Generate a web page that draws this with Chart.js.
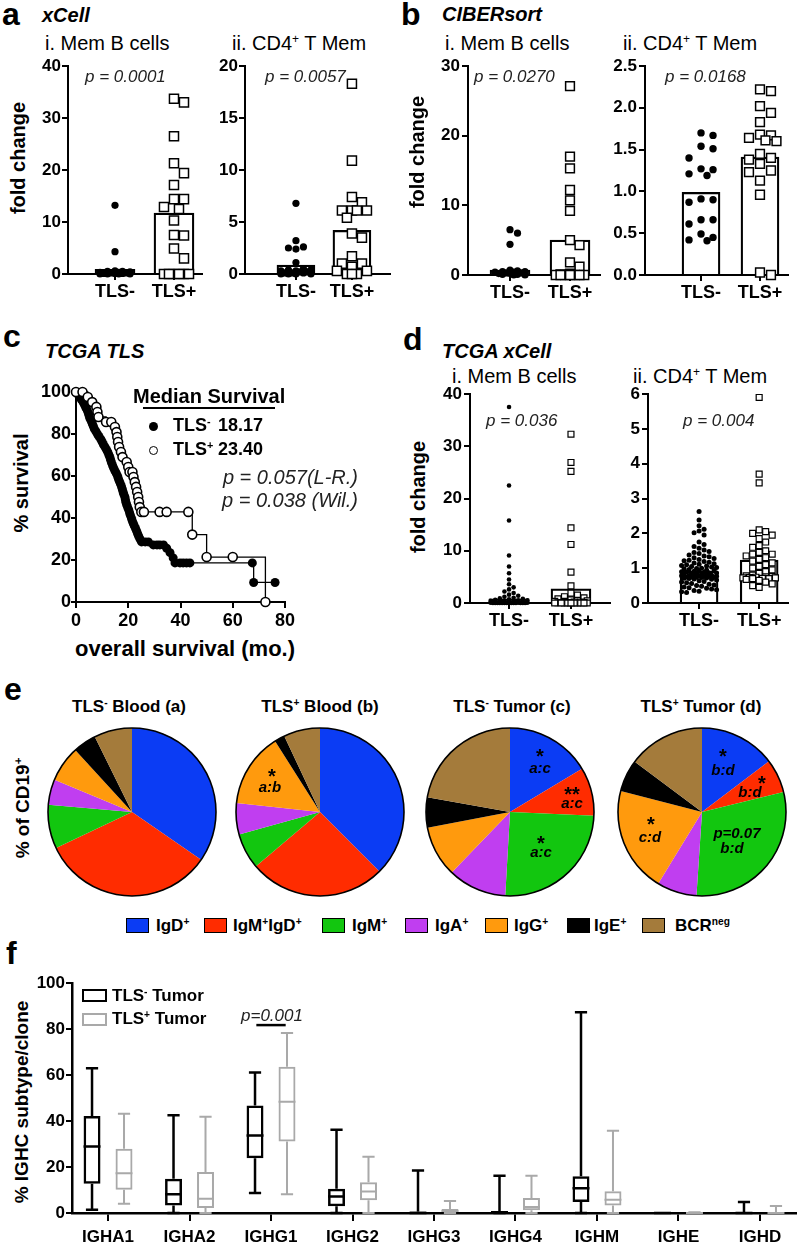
<!DOCTYPE html>
<html><head><meta charset="utf-8">
<script src="https://cdn.jsdelivr.net/npm/chart.js@4.4.1/dist/chart.umd.min.js"></script>
<style>
html,body{margin:0;padding:0;background:#fff;}
#fig{position:relative;width:800px;height:1243px;overflow:hidden;background:#fff;font-family:"Liberation Sans",Arial,Helvetica,sans-serif;color:#000;}
#fig canvas{position:absolute;}
.t{position:absolute;white-space:nowrap;line-height:1;}
.t sup{font-size:0.6em;line-height:0;vertical-align:0.6em;}
.sw{position:absolute;box-sizing:border-box;}
</style></head><body><div id="fig"></div>
<script>
// ================= DATA =================
const groupLabels = ['TLS-', 'TLS+'];

// a. xCell
const aMemB_neg = [13.2, 4.3, 0.6, 0.5, 0.5, 0.4, 0.3, 0.3, 0.2, 0.2, 0.1, 0.1, 0.1, 0.0, 0.0, 0.0, 0.0];
const aMemB_pos = [33.7, 33.0, 26.5, 21.3, 19.4, 17.1, 14.4, 14.4, 12.9, 12.5, 10.3, 7.4, 7.5, 4.9, 3.0, 0, 0, 0, 0, 0, 0];
const aMemB_mean = [0.9, 11.7];
const aCD4_neg = [6.8, 3.2, 2.6, 2.5, 2.4, 1.1, 0.5, 0.4, 0.4, 0.3, 0.3, 0.2, 0.2, 0.1, 0.1, 0.1, 0.0, 0.0, 0.0, 0.0];
const aCD4_pos = [18.3, 10.9, 7.4, 6.9, 6.1, 6.1, 6.1, 6.1, 5.4, 3.9, 3.5, 1.7, 1.0, 1.0, 0.7, 0.3, 0.3, 0, 0, 0];
const aCD4_mean = [0.85, 4.2];

// b. CIBERsort
const bMemB_neg = [6.5, 6.0, 4.4, 0.7, 0.6, 0.5, 0.5, 0.4, 0.4, 0.3, 0.3, 0.2, 0.2, 0.1, 0.1, 0.0, 0.0];
const bMemB_pos = [27.1, 17.0, 15.3, 12.2, 10.7, 9.2, 5.0, 4.3, 1.8, 1.2, 0.2, 0.1, 0, 0, 0, 0, 0, 0, 0];
const bMemB_mean = [0.7, 5.0];
const bCD4_neg = [1.70, 1.67, 1.54, 1.51, 1.40, 1.27, 1.26, 1.21, 1.19, 0.91, 0.90, 0.87, 0.66, 0.66, 0.61, 0.49, 0.45, 0.42, 0.41];
const bCD4_pos = [2.22, 2.20, 2.02, 1.94, 1.83, 1.68, 1.67, 1.64, 1.61, 1.60, 1.45, 1.40, 1.38, 1.33, 1.25, 1.23, 1.13, 0.96, 0.03, 0.0];
const bCD4_mean = [0.99, 1.41];

// c. TCGA TLS Kaplan-Meier  [months, % survival]
const kmNeg = [[0,100],[0.8,98.8],[1.5,97.5],[2.1,96.3],[2.8,95],[3.3,93.8],[3.8,92.5],[4.3,91.3],[4.7,90],[5.0,88.8],[5.3,87.5],[5.8,86.3],[6.2,85],[6.6,83.8],[7.0,82.5],[7.6,81.3],[8.2,80],[8.8,78.8],[9.5,77.5],[10.0,76.3],[10.5,75],[11.1,73.8],[11.7,72.5],[12.2,71.3],[12.6,70],[13.0,68.8],[13.3,67.5],[13.6,66.3],[14.0,65],[14.4,63.8],[14.9,62.5],[15.4,61.3],[15.9,60],[16.2,58.8],[16.6,57.5],[17.0,56.3],[17.4,55],[17.7,53.8],[18.0,52.5],[18.3,51.3],[18.7,50],[18.9,48.8],[19.1,47.5],[19.4,46.3],[19.8,45],[20.2,43.8],[20.5,42.5],[20.8,41.3],[21.2,40],[21.5,38.8],[21.9,37.5],[22.3,36.3],[22.8,35],[23.2,33.8],[23.6,32.5],[24.0,31.3],[24.5,30],[25.1,28.6],[26.5,28.6],[27.7,28.6],[29.6,27.2],[31.0,27.2],[32.1,27.2],[33.5,27.2],[34.7,25.6],[36.0,23.5],[37.2,21.0],[37.9,18.6],[39.8,18.6],[41.0,18.6],[42.3,18.6],[43.6,18.6],[67.5,18.6],[68.0,9.3],[76.2,9.3]];
const kmPos = [[0,100],[2.5,100],[4.5,97.6],[6.2,95.2],[7.8,92.9],[8.2,90.5],[8.6,88.1],[11.5,85.7],[13.5,85.7],[14.9,83.3],[15.5,80.9],[15.8,78.6],[16.1,76.2],[16.5,73.8],[17.2,71.4],[17.8,69.0],[19.4,66.7],[20.0,64.3],[20.5,61.9],[21.6,61.9],[22.0,59.5],[22.5,57.1],[23.0,54.8],[23.4,52.4],[23.8,50.0],[24.1,47.6],[24.4,45.2],[25.0,42.9],[26.0,42.9],[32.0,42.9],[34.7,42.9],[43.0,42.9],[44.5,32.1],[50.0,21.4],[60.0,21.4],[72.5,0]];

// d. TCGA xCell
const dMemB_neg = [37.5, 22.5, 15.8, 9.1, 7.0, 5.7, 4.5, 3.6, 3.0, 2.6, 2.2, 1.9, 1.6, 1.4, 1.2, 1.0, 0.9, 0.8, 0.7, 0.6, 0.5, 0.5, 0.4, 0.4, 0.3, 0.3, 0.3, 0.2, 0.2, 0.2, 0.2, 0.1, 0.1, 0.1, 0.1, 0.1, 0.1, 0.05, 0.05, 0.05, 0.05, 0.05, 0, 0, 0, 0, 0, 0, 0, 0, 0, 0, 0, 0, 0, 0];
const dMemB_pos = [32.3, 26.9, 25.2, 14.4, 11.2, 5.9, 3.3, 1.9, 1.5, 1.2, 1.0, 0.8, 0.6, 0.5, 0.4, 0.3, 0.3, 0.2, 0.2, 0.1, 0.1, 0.1, 0.05, 0.05, 0, 0, 0, 0, 0, 0, 0, 0, 0, 0];
const dMemB_mean = [0.8, 2.7];
const dCD4_neg = [2.63, 2.38, 2.22, 2.12, 2.07, 2.02, 1.95, 1.75, 1.68, 1.62, 1.57, 1.52, 1.48, 1.45, 1.42, 1.38, 1.35, 1.33, 1.30, 1.28, 1.25, 1.23, 1.21, 1.19, 1.17, 1.15, 1.13, 1.11, 1.10, 1.08, 1.06, 1.05, 1.03, 1.02, 1.00, 0.99, 0.98, 0.96, 0.95, 0.93, 0.92, 0.91, 0.90, 0.89, 0.88, 0.87, 0.86, 0.85, 0.84, 0.83, 0.82, 0.81, 0.80, 0.80, 0.79, 0.78, 0.78, 0.77, 0.76, 0.76, 0.75, 0.75, 0.74, 0.74, 0.73, 0.72, 0.71, 0.70, 0.69, 0.68, 0.66, 0.64, 0.62, 0.60, 0.58, 0.56, 0.54, 0.52, 0.50, 0.48, 0.46, 0.44, 0.42, 0.40, 0.38, 0.36, 0.34, 0.32, 0.30];
const dCD4_pos = [5.9, 3.7, 3.45, 2.1, 2.05, 2.0, 1.95, 1.85, 1.75, 1.65, 1.6, 1.5, 1.45, 1.4, 1.4, 1.35, 1.3, 1.25, 1.2, 1.15, 1.1, 1.05, 1.0, 0.95, 0.9, 0.85, 0.8, 0.78, 0.76, 0.75, 0.74, 0.73, 0.72, 0.72, 0.71, 0.70, 0.70, 0.68, 0.65, 0.6, 0.55, 0.5, 0.45];
const dCD4_mean = [0.91, 1.23];

// e. BCR isotype pies (% of CD19+)
const pieLabels = ['IgD<sup>+</sup>', 'IgM<sup>+</sup>IgD<sup>+</sup>', 'IgM<sup>+</sup>', 'IgA<sup>+</sup>', 'IgG<sup>+</sup>', 'IgE<sup>+</sup>', 'BCR<sup>neg</sup>'];
const pieTitles = ['TLS<sup>-</sup> Blood (a)', 'TLS<sup>+</sup> Blood (b)', 'TLS<sup>-</sup> Tumor (c)', 'TLS<sup>+</sup> Tumor (d)'];
const pieBloodNeg = [34.6, 33.3, 8.4, 4.9, 6.9, 4.5, 7.3];
const pieBloodPos = [37.5, 26.3, 6.9, 6.0, 14.3, 2.0, 7.0];
const pieTumorNeg = [16.4, 9.3, 25.2, 11.3, 9.8, 5.8, 22.2];
const pieTumorPos = [14.7, 6.5, 29.9, 7.7, 20.3, 6.2, 14.8];

// f. IGHC subtype box plots
const ighcCats = ['IGHA1', 'IGHA2', 'IGHG1', 'IGHG2', 'IGHG3', 'IGHG4', 'IGHM', 'IGHE', 'IGHD'];
const negMin = [1.4, 0, 8.7, 0, 0, 0, 0, 0, 0];
const negQ1  = [12.7, 3.3, 23.8, 2.9, 0, 0, 4.8, 0, 0];
const negMed = [28.9, 8.2, 33.7, 7.2, 0, 0.3, 10.8, 0, 0];
const negQ3  = [42.2, 14.9, 46.7, 10.5, 0.6, 0.9, 16.0, 0, 0];
const negMax = [62.9, 42.5, 61.1, 36.2, 18.5, 16.2, 87.3, 0, 4.8];
const posMin = [4.0, 0, 8.2, 0, 0, 0, 0, 0, 0];
const posQ1  = [10.1, 2.2, 31.1, 5.5, 0, 1.2, 3.3, 0, 0];
const posMed = [17.3, 6.2, 48.4, 9.4, 0.9, 2.6, 5.8, 0, 0];
const posQ3  = [27.9, 17.8, 63.6, 13.4, 1.7, 6.5, 9.5, 0.3, 0.4];
const posMax = [43.1, 41.9, 78.3, 24.5, 5.2, 16.2, 35.8, 0.3, 3.0];

// ================= STYLE =================
const pieColors = ['#0b3cf4', '#ff2c00', '#12c60f', '#c03ef0', '#ff9a0d', '#000000', '#a47b3b'];
const FONT = '"Liberation Sans", Arial, Helvetica, sans-serif';
Chart.defaults.font.family = FONT;
Chart.defaults.color = '#000';
Chart.defaults.animation = false;

const FIG = document.getElementById('fig');

function txt(html, x, base, size, st, align, color) {
  st = st || '';
  const d = document.createElement('div');
  d.className = 't';
  d.innerHTML = html;
  d.style.fontSize = size + 'px';
  d.style.fontWeight = st.includes('b') ? 'bold' : 'normal';
  d.style.fontStyle = st.includes('i') ? 'italic' : 'normal';
  if (color) d.style.color = color;
  d.style.left = x + 'px';
  d.style.top = (base - 0.8465 * size) + 'px';
  if (align === 'center') d.style.transform = 'translateX(-50%)';
  else if (align === 'right') d.style.transform = 'translateX(-100%)';
  FIG.appendChild(d);
  return d;
}
function vtxt(html, cx, cy, size, st) {
  const d = document.createElement('div');
  d.className = 't';
  d.innerHTML = html;
  d.style.fontSize = size + 'px';
  d.style.fontWeight = (st || '').includes('b') ? 'bold' : 'normal';
  d.style.left = cx + 'px';
  d.style.top = cy + 'px';
  d.style.transform = 'translate(-50%,-50%) rotate(-90deg)';
  FIG.appendChild(d);
}
function box(x, y, w, h, css) {
  const d = document.createElement('div');
  d.className = 'sw';
  d.style.left = x + 'px'; d.style.top = y + 'px';
  d.style.width = w + 'px'; d.style.height = h + 'px';
  d.style.cssText += css;
  FIG.appendChild(d);
}
function mkCanvas(C) {
  const c = document.createElement('canvas');
  const w = C.r - C.l, h = C.b - C.t;
  c.width = w; c.height = h;
  c.style.left = C.l + 'px'; c.style.top = C.t + 'px';
  c.style.width = w + 'px'; c.style.height = h + 'px';
  FIG.appendChild(c);
  return c;
}
function axisGrid(tl) {
  return {display: true, drawOnChartArea: false, drawTicks: true, tickLength: tl || 6, color: '#000', lineWidth: 2, offset: false};
}

// beeswarm-style horizontal spreading of tied/close points (deterministic)
function swarm(vals, pxPerY, pitch, maxOff) {
  const order = vals.map((v, i) => i).sort((a, b) => vals[b] - vals[a] || a - b);
  const cands = [0];
  const half = pitch / 2;
  for (let k = 1; k * half <= maxOff + 0.01; k++) cands.push(k * half, -k * half);
  const full = cands.filter(c => Math.abs(Math.round(c / pitch) * pitch - c) < 0.01);
  const placed = [], off = new Array(vals.length).fill(0);
  for (const i of order) {
    const y = vals[i] * pxPerY;
    let best = 0, bestScore = -Infinity, found = false;
    for (const c of full) {
      let md = Infinity;
      for (const p of placed) { const d = Math.hypot(p.x - c, p.y - y); if (d < md) md = d; }
      if (md >= pitch) { best = c; found = true; break; }
    }
    if (!found) {
      for (const c of cands) {
        let md = Infinity;
        for (const p of placed) { const d = Math.hypot(p.x - c, p.y - y); if (d < md) md = d; }
        if (md > bestScore + 0.01) { bestScore = md; best = c; }
      }
    }
    placed.push({x: best, y}); off[i] = best;
  }
  return off;
}

function dotPlot(o) {
  const A = o.area, C = o.canvas;
  const cv = mkCanvas(C);
  const pxY = (A.b - A.t) / (o.yMax - o.yMin);
  const pxX = (A.r - A.l) / (o.xMax - o.xMin);
  const nOff = swarm(o.neg, pxY, o.dotPitch, o.spread);
  const pOff = swarm(o.pos, pxY, o.sqPitch, o.spread);
  const negData = o.neg.map((v, i) => ({x: 0 + nOff[i] / pxX, y: v}));
  const posData = o.pos.map((v, i) => ({x: 1 + pOff[i] / pxX, y: v}));
  new Chart(cv, {
    type: 'scatter',
    data: {datasets: [
      {type: 'scatter', data: negData, pointStyle: 'circle', pointRadius: o.dotR, pointBackgroundColor: '#000', pointBorderColor: '#000', pointBorderWidth: 0, clip: false, order: 1},
      {type: 'scatter', data: posData, pointStyle: 'rect', pointRadius: o.sqR, pointBackgroundColor: '#fff', pointBorderColor: '#000', pointBorderWidth: o.sqBW, clip: false, order: 1},
      {type: 'bar', data: [{x: 0, y: o.mean[0]}, {x: 1, y: o.mean[1]}], backgroundColor: 'rgba(0,0,0,0)', borderColor: '#000', borderWidth: 1.6, barThickness: o.barW, borderSkipped: 'start', order: 2}
    ]},
    options: {
      responsive: false, events: [],
      layout: {padding: {left: 0, top: A.t - C.t, right: C.r - A.r, bottom: 0}},
      plugins: {legend: {display: false}, tooltip: {enabled: false}},
      scales: {
        x: {type: 'linear', offset: false, min: o.xMin, max: o.xMax,
            afterBuildTicks: s => { s.ticks = [{value: 0}, {value: 1}]; },
            afterFit: s => { s.height = C.b - A.b; },
            ticks: {callback: v => groupLabels[v], font: {size: 18, weight: 'bold'}, color: '#000', padding: 1, maxRotation: 0, autoSkip: false},
            grid: axisGrid(6), border: {display: true, color: '#000', width: 2}},
        y: {type: 'linear', offset: false, min: o.yMin, max: o.yMax,
            afterFit: s => { s.width = A.l - C.l; },
            ticks: {stepSize: o.yStep, callback: v => v.toFixed(o.dec || 0), font: {size: 17, weight: 'bold'}, color: '#000', padding: o.yPad == null ? 1 : o.yPad},
            grid: axisGrid(6), border: {display: true, color: '#000', width: 2}}
      }
    }
  });
}

// ================= PANEL a =================
txt('a', 2, 25, 32, 'b');
txt('xCell', 42, 22, 20, 'bi');
txt('i. Mem B cells', 45, 50, 20);
txt('ii. CD4<sup>+</sup> T Mem', 232, 50, 20);
vtxt('fold change', 18, 158, 20, 'b');
dotPlot({area: {l: 68, t: 66, r: 202, b: 274}, canvas: {l: 0, t: 50, r: 212, b: 305},
  yMin: 0, yMax: 40, yStep: 10, xMin: -0.797, xMax: 1.475,
  neg: aMemB_neg, pos: aMemB_pos, mean: aMemB_mean,
  dotR: 3.6, sqR: 6.4, sqBW: 1.5, dotPitch: 7.5, sqPitch: 10, spread: 18, barW: 40});
dotPlot({area: {l: 245, t: 66, r: 390, b: 274}, canvas: {l: 205, t: 50, r: 398, b: 305},
  yMin: 0, yMax: 20, yStep: 5, xMin: -0.91, xMax: 1.68,
  neg: aCD4_neg, pos: aCD4_pos, mean: aCD4_mean,
  dotR: 3.6, sqR: 6.4, sqBW: 1.5, dotPitch: 7.5, sqPitch: 10, spread: 18, barW: 38});
txt('p = 0.0001', 85, 82, 17, 'i', null, '#222');
txt('p = 0.0057', 265, 82, 17, 'i', null, '#222');

// ================= PANEL b =================
txt('b', 401, 25, 32, 'b');
txt('CIBERsort', 442, 21, 20, 'bi');
txt('i. Mem B cells', 445, 50, 20);
txt('ii. CD4<sup>+</sup> T Mem', 623, 50, 20);
vtxt('fold change', 417, 152, 20, 'b');
dotPlot({area: {l: 468, t: 66, r: 600, b: 275}, canvas: {l: 420, t: 50, r: 608, b: 305},
  yMin: 0, yMax: 30, yStep: 10, xMin: -0.7, xMax: 1.5, yPad: 2,
  neg: bMemB_neg, pos: bMemB_pos, mean: bMemB_mean,
  dotR: 3.6, sqR: 6.2, sqBW: 1.5, dotPitch: 7.5, sqPitch: 9.5, spread: 18, barW: 40});
dotPlot({area: {l: 645, t: 66, r: 788, b: 275}, canvas: {l: 605, t: 50, r: 798, b: 305},
  yMin: 0, yMax: 2.5, yStep: 0.5, dec: 1, xMin: -0.95, xMax: 1.475, yPad: 2,
  neg: bCD4_neg, pos: bCD4_pos, mean: bCD4_mean,
  dotR: 3.7, sqR: 6.2, sqBW: 1.5, dotPitch: 12, sqPitch: 11, spread: 18, barW: 38});
txt('p = 0.0270', 474, 82, 17, 'i', null, '#222');
txt('p = 0.0168', 665, 82, 17, 'i', null, '#222');

// ================= PANEL c =================
txt('c', 3, 347, 32, 'b');
txt('TCGA TLS', 45, 358, 20, 'bi');
vtxt('% survival', 21, 483, 20, 'b');
txt('overall survival (mo.)', 185, 657, 22, 'b', 'center');
(function () {
  const A = {l: 76, t: 392, r: 285, b: 602}, C = {l: 25, t: 376, r: 300, b: 640};
  const cv = mkCanvas(C);
  new Chart(cv, {
    type: 'scatter',
    data: {datasets: [
      {label: 'TLS+', data: kmPos.map(p => ({x: p[0], y: p[1]})), showLine: true, stepped: true, borderColor: '#000', borderWidth: 1.3,
       pointStyle: 'circle', pointRadius: 4.5, pointBackgroundColor: '#fff', pointBorderColor: '#000', pointBorderWidth: 1.6, clip: false},
      {label: 'TLS-', data: kmNeg.map(p => ({x: p[0], y: p[1]})), showLine: true, stepped: true, borderColor: '#000', borderWidth: 1.3,
       pointStyle: 'circle', pointRadius: 4.5, pointBackgroundColor: '#000', pointBorderColor: '#000', pointBorderWidth: 0, clip: false}
    ]},
    options: {
      responsive: false, events: [],
      layout: {padding: {left: 0, top: A.t - C.t, right: C.r - A.r, bottom: 0}},
      plugins: {legend: {display: false}, tooltip: {enabled: false}},
      scales: {
        x: {type: 'linear', min: 0, max: 80, afterFit: s => { s.height = C.b - A.b; },
            ticks: {stepSize: 20, font: {size: 18, weight: 'bold'}, color: '#000', padding: 2, maxRotation: 0},
            grid: axisGrid(6), border: {display: true, color: '#000', width: 2}},
        y: {type: 'linear', min: 0, max: 100, afterFit: s => { s.width = A.l - C.l; },
            ticks: {stepSize: 20, font: {size: 18, weight: 'bold'}, color: '#000', padding: 0},
            grid: axisGrid(5), border: {display: true, color: '#000', width: 2}}
      }
    }
  });
})();
txt('Median Survival', 133, 403, 20, 'b');
box(143, 407, 132, 2, 'background:#000;');
box(148.5, 421.5, 9, 9, 'background:#000;border-radius:50%;');
txt('TLS<sup>-</sup>', 173, 431, 18, 'b');
txt('18.17', 218, 431, 18, 'b');
box(148.5, 445.5, 9, 9, 'background:#fff;border:1.6px solid #000;border-radius:50%;');
txt('TLS<sup>+</sup>', 173, 455, 18, 'b');
txt('23.40', 218, 455, 18, 'b');
txt('p = 0.057(L-R.)', 358, 484, 20, 'i', 'right', '#222');
txt('p = 0.038 (Wil.)', 358, 507, 20, 'i', 'right', '#222');

// ================= PANEL d =================
txt('d', 403, 350, 32, 'b');
txt('TCGA xCell', 442, 358, 20, 'bi');
txt('i. Mem B cells', 452, 383, 20);
txt('ii. CD4<sup>+</sup> T Mem', 633, 383, 20);
vtxt('fold change', 418, 497, 20, 'b');
dotPlot({area: {l: 470, t: 394, r: 610, b: 603}, canvas: {l: 425, t: 378, r: 618, b: 635},
  yMin: 0, yMax: 40, yStep: 10, xMin: -0.63, xMax: 1.63, yPad: 2,
  neg: dMemB_neg, pos: dMemB_pos, mean: dMemB_mean,
  dotR: 2.3, sqR: 4.2, sqBW: 1.2, dotPitch: 4.6, sqPitch: 6.5, spread: 19, barW: 40});
dotPlot({area: {l: 648, t: 394, r: 788, b: 603}, canvas: {l: 612, t: 378, r: 798, b: 635},
  yMin: 0, yMax: 6, yStep: 1, xMin: -0.85, xMax: 1.48, yPad: 2,
  neg: dCD4_neg, pos: dCD4_pos, mean: dCD4_mean,
  dotR: 2.5, sqR: 4.2, sqBW: 1.2, dotPitch: 5, sqPitch: 6.5, spread: 19, barW: 38});
txt('p = 0.036', 486, 426, 17, 'i', null, '#222');
txt('p = 0.004', 683, 426, 17, 'i', null, '#222');

// ================= PANEL e =================
txt('e', 4, 700, 32, 'b');
vtxt('% of CD19<sup>+</sup>', 22, 808, 19, 'b');
const outlinePlugin = {
  id: 'outline',
  afterDatasetsDraw(chart) {
    const arc = chart.getDatasetMeta(0).data[0];
    if (!arc) return;
    const ctx = chart.ctx;
    ctx.save();
    ctx.beginPath();
    ctx.arc(arc.x, arc.y, arc.outerRadius, 0, Math.PI * 2);
    ctx.lineWidth = 1.6; ctx.strokeStyle = '#000';
    ctx.stroke();
    ctx.restore();
  }
};
const pieSets = [pieBloodNeg, pieBloodPos, pieTumorNeg, pieTumorPos];
const pieCX = [132, 320, 510, 702];
const pieTitleX = [129, 320, 512, 701];
pieSets.forEach((vals, k) => {
  const cx = pieCX[k], cy = 812, half = 88;
  const cv = mkCanvas({l: cx - half, t: cy - half, r: cx + half, b: cy + half});
  new Chart(cv, {
    type: 'pie',
    data: {labels: pieLabels, datasets: [{data: vals, backgroundColor: pieColors, borderWidth: 0, hoverOffset: 0, offset: 0}]},
    options: {responsive: false, events: [], layout: {padding: 4},
      plugins: {legend: {display: false}, tooltip: {enabled: false}}},
    plugins: [outlinePlugin]
  });
  txt(pieTitles[k], pieTitleX[k], 712, 17, 'b', 'center');
});
// significance marks on slices
txt('*', 272, 783, 20, 'b', 'center'); txt('a:b', 270, 792, 15, 'bi', 'center');
txt('*', 540, 763, 20, 'b', 'center'); txt('a:c', 540, 773, 15, 'bi', 'center');
txt('**', 572, 801, 20, 'b', 'center'); txt('a:c', 572, 808, 15, 'bi', 'center');
txt('*', 541, 850, 20, 'b', 'center'); txt('a:c', 541, 857, 15, 'bi', 'center');
txt('*', 723, 763, 20, 'b', 'center'); txt('b:d', 723, 775, 15, 'bi', 'center');
txt('*', 762, 790, 20, 'b', 'center'); txt('b:d', 750, 797, 15, 'bi', 'center');
txt('*', 651, 831, 20, 'b', 'center'); txt('c:d', 650, 842, 15, 'bi', 'center');
txt('p=0.07', 737, 838, 15, 'bi', 'center'); txt('b:d', 732, 853, 15, 'bi', 'center');
// legend
const legBoxX = [126, 204, 322, 405, 485, 567, 642];
const legTxtX = [156, 233, 352, 435, 514, 594, 675];
pieLabels.forEach((lab, i) => {
  box(legBoxX[i], 918, 23, 15, 'background:' + pieColors[i] + ';border:1.5px solid #000;');
  txt(lab, legTxtX[i], 931, 17, 'b');
});

// ================= PANEL f =================
txt('f', 6, 964, 32, 'b');
vtxt('% IGHC subtype/clone', 21, 1102, 19, 'b');
(function () {
  const A = {l: 72, t: 983, r: 796, b: 1213}, C = {l: 30, t: 966, r: 800, b: 1243};
  const cv = mkCanvas(C);
  const whisker = {
    id: 'whisker',
    afterDatasetsDraw(chart) {
      const ys = chart.scales.y, xs = chart.scales.x, ctx = chart.ctx;
      chart.data.datasets.forEach((ds, di) => {
        const meta = chart.getDatasetMeta(di);
        meta.data.forEach((el, i) => {
          const x = el.x, w = el.width;
          const st = ds.stats;
          const pMin = ys.getPixelForValue(st.min[i]), pMax = ys.getPixelForValue(st.max[i]);
          const pMed = ys.getPixelForValue(st.med[i]);
          const pQ1 = ys.getPixelForValue(ds.data[i].y[0]), pQ3 = ys.getPixelForValue(ds.data[i].y[1]);
          ctx.save();
          ctx.strokeStyle = ds.borderColor; ctx.lineWidth = ds.borderWidth; ctx.lineCap = 'butt';
          ctx.beginPath();
          if (pMax < pQ3) { ctx.moveTo(x, pQ3); ctx.lineTo(x, pMax); }
          if (pMin > pQ1) { ctx.moveTo(x, pQ1); ctx.lineTo(x, pMin); }
          ctx.moveTo(x - w * 0.36, pMax); ctx.lineTo(x + w * 0.36, pMax);
          ctx.moveTo(x - w * 0.36, pMin); ctx.lineTo(x + w * 0.36, pMin);
          ctx.moveTo(x - w / 2, pMed); ctx.lineTo(x + w / 2, pMed);
          ctx.stroke();
          ctx.restore();
        });
      });
      // significance bar IGHG1 TLS- vs TLS+
      ctx.save();
      ctx.strokeStyle = '#000'; ctx.lineWidth = 2.5;
      ctx.beginPath();
      ctx.moveTo(xs.getPixelForValue(1.82), ys.getPixelForValue(81.7));
      ctx.lineTo(xs.getPixelForValue(2.18), ys.getPixelForValue(81.7));
      ctx.stroke();
      ctx.restore();
    }
  };
  new Chart(cv, {
    type: 'bar',
    data: {datasets: [
      {label: 'TLS- Tumor', data: ighcCats.map((c, i) => ({x: i, y: [negQ1[i], negQ3[i]]})),
       backgroundColor: 'rgba(0,0,0,0)', borderColor: '#000', borderWidth: 2.5, borderSkipped: false,
       categoryPercentage: 0.785, barPercentage: 0.53, stats: {min: negMin, med: negMed, max: negMax}},
      {label: 'TLS+ Tumor', data: ighcCats.map((c, i) => ({x: i, y: [posQ1[i], posQ3[i]]})),
       backgroundColor: 'rgba(0,0,0,0)', borderColor: '#a9a9a9', borderWidth: 2, borderSkipped: false,
       categoryPercentage: 0.785, barPercentage: 0.53, stats: {min: posMin, med: posMed, max: posMax}}
    ]},
    options: {
      responsive: false, events: [],
      layout: {padding: {left: 0, top: A.t - C.t, right: C.r - A.r, bottom: 0}},
      plugins: {legend: {display: false}, tooltip: {enabled: false}},
      scales: {
        x: {type: 'linear', offset: false, min: -0.442, max: 8.442,
            afterBuildTicks: s => { s.ticks = ighcCats.map((c, i) => ({value: i})); },
            afterFit: s => { s.height = C.b - A.b; },
            ticks: {callback: v => ighcCats[v], font: {size: 17, weight: 'bold'}, color: '#000', padding: 6, maxRotation: 0, autoSkip: false},
            grid: axisGrid(8), border: {display: true, color: '#000', width: 2.5}},
        y: {type: 'linear', min: 0, max: 100, afterFit: s => { s.width = A.l - C.l; },
            ticks: {stepSize: 20, font: {size: 17, weight: 'bold'}, color: '#000', padding: 1},
            grid: axisGrid(6), border: {display: true, color: '#000', width: 2.5}}
      }
    },
    plugins: [whisker]
  });
})();
box(82, 989, 25, 13, 'border:2.5px solid #000;');
txt('TLS<sup>-</sup> Tumor', 112, 1001, 17, 'b');
box(82, 1013, 25, 13, 'border:2px solid #a9a9a9;');
txt('TLS<sup>+</sup> Tumor', 112, 1024, 17, 'b');
txt('p=0.001', 272, 1021, 17, 'i', 'center', '#222');
</script></body></html>
